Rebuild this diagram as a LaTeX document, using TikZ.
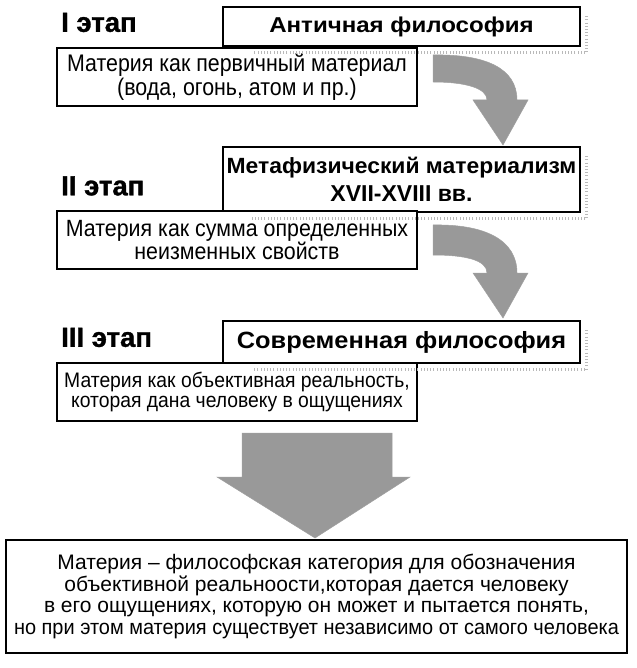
\documentclass[tikz,border=0pt]{standalone}
\usepackage{fontspec}
\setmainfont{Liberation Sans}
\usepackage{tikz}
\usetikzlibrary{calc,positioning}
\definecolor{arrowgray}{gray}{0.6}

\tikzset{
  stagebox/.style={draw,line width=1.5pt,fill=white,inner sep=0pt,align=center,
    minimum width=357pt},
  matbox/.style={draw,line width=1.5pt,fill=white,inner sep=0pt,align=center,
    minimum width=360pt,minimum height=58pt},
  stagelabel/.style={anchor=west,inner sep=0pt,
    font=\bfseries\fontsize{27.5}{30}\selectfont\addfontfeatures{FakeBold=1.2}},
  bigarrow/.style={fill=arrowgray,draw=gray!75,line width=0.5pt},
  shadowdots/.style={draw=gray!55,line width=3pt,dash pattern=on 0.8pt off 2.4pt}
}

\begin{document}
\begin{tikzpicture}[x=1pt,y=-1pt]
  \useasboundingbox (0,0) rectangle (636,668);
  % the bent arrows between the stages
  \draw[bigarrow] (433,55) .. controls (485,54) and (517,68) .. (517,100) -- (528,100) -- (503,145)
    -- (473,100) -- (487,100) .. controls (487,88) and (465,82) .. (433,82) -- cycle;
  \draw[bigarrow] (433,225) .. controls (485,224) and (517,240) .. (517,273) -- (528,273) -- (503,318)
    -- (473,273) -- (487,273) .. controls (487,260) and (465,255) .. (433,255) -- cycle;
  % the big arrow down to the definition
  \draw[bigarrow] (242,433) -- (392,433) -- (392,477) -- (410,477) -- (315,538) -- (217,477) -- (242,477) -- cycle;
  % stage I
  \node[stagelabel] (st1) at (61,22.5) {I этап};
  \node[stagebox,minimum height=39pt,
    font=\bfseries\fontsize{21.5}{26}\selectfont\addfontfeatures{FakeStretch=1.12}] (phil1) at (401.5,26.5)
    {Античная философия};
  \node[matbox,font=\fontsize{24}{24}\selectfont\addfontfeatures{FakeStretch=0.89}] (mat1) at (237,77)
    {Материя как первичный материал\\(вода, огонь, атом и пр.)};
  % stage II
  \node[stagelabel] (st2) at (61,186) {II этап};
  \node[stagebox,minimum height=65pt,font=\bfseries\fontsize{22}{28}\selectfont] (phil2) at (401.5,179.5)
    {{\addfontfeatures{FakeStretch=1.04}Метафизический материализм}\\{\fontsize{23}{28}\selectfont XVII-XVIII вв.}};
  \node[matbox,font=\fontsize{23.5}{22}\selectfont\addfontfeatures{FakeStretch=0.91}] (mat2) at (237,240)
    {Материя как сумма определенных\\неизменных свойств};
  % stage III
  \node[stagelabel] (st3) at (61,337.5) {III этап};
  \node[stagebox,minimum height=42pt,
    font=\bfseries\fontsize{23.5}{26}\selectfont\addfontfeatures{FakeStretch=1.08}] (phil3) at (401.5,342)
    {Современная философия};
  \node[matbox,font=\fontsize{21}{20.5}\selectfont\addfontfeatures{FakeStretch=0.92}] (mat3) at (237,392)
    {Материя как объективная реальность,\\которая дана человеку в ощущениях};
  % speckled shadow of the title boxes
  \foreach \b in {phil1,phil2,phil3}
    \draw[shadowdots] ($(\b.north east)+(6,10)$) -- ($(\b.south east)+(6,6)$) -- ($(\b.south west)+(30,6)$);
  % definition
  \node[draw,line width=1.5pt,inner sep=0pt,align=center,minimum width=621pt,minimum height=113pt,
    font=\fontsize{21}{21.7}\selectfont] (def) at (316.5,596.5)
    {Материя -- философская категория для обозначения\\
     объективной реальноости,которая дается человеку\\
     в его ощущениях, которую он может и пытается понять,\\
     {\addfontfeatures{FakeStretch=0.95}но при этом материя существует независимо от самого человека}};
\end{tikzpicture}
\end{document}
